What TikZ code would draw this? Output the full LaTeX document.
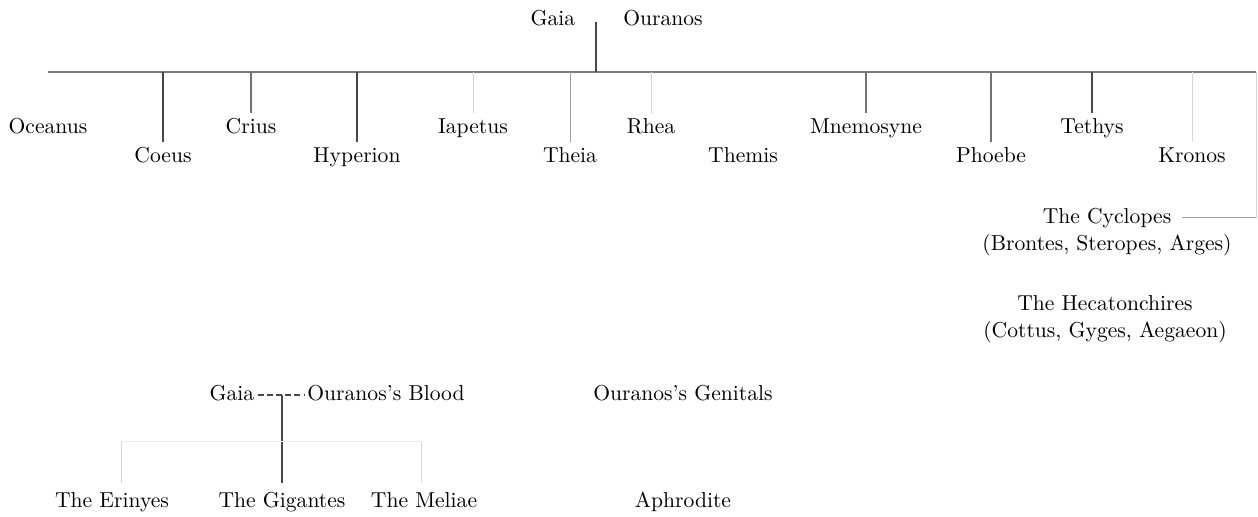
\documentclass[tikz,border=0pt]{standalone}

\begin{document}
\begin{tikzpicture}[
    x=0.5pt,
    y=-0.5pt,
    font=\fontsize{10.8}{13}\selectfont,
    kid/.style={inner sep=3.5pt, text height=1.5ex, text depth=.25ex},
    kidlow/.style={kid, inner sep=5.5pt},
    bar/.style={line width=1.1pt, black!52},
    darkline/.style={line width=0.8pt, black!72},
    midline/.style={line width=0.6pt, black!55},
    paleline/.style={line width=0.5pt, black!38},
    faintline/.style={line width=0.5pt, black!16},
  ]
  \useasboundingbox (0,0) rectangle (1258,517);

  \node[kid] (Gaia) at (553,20) {Gaia};
  \node[kid] (Ouranos) at (663,20) {Ouranos};
  \coordinate (union) at (596,22);
  \coordinate (barL) at (48,72);
  \coordinate (barR) at (1256,72);

  \node[kid] (Oceanus) at (48,128) {Oceanus};
  \node[kid] (Coeus) at (163,157) {Coeus};
  \node[kid] (Crius) at (251,128) {Crius};
  \node[kid] (Hyperion) at (357,157) {Hyperion};
  \node[kid] (Iapetus) at (473,128) {Iapetus};
  \node[kid] (Theia) at (570,157) {Theia};
  \node[kid] (Rhea) at (651,128) {Rhea};
  \node[kid] (Themis) at (743,157) {Themis};
  \node[kid] (Mnemosyne) at (866,128) {Mnemosyne};
  \node[kid] (Phoebe) at (991,157) {Phoebe};
  \node[kid] (Tethys) at (1092,128) {Tethys};
  \node[kid] (Kronos) at (1192,157) {Kronos};

  \node[kid] (Cyclopes) at (1107,218) {The Cyclopes};
  \node[kid] (CyclopesNames) at (1107,245) {(Brontes, Steropes, Arges)};
  \node[kid] (Hecaton) at (1105,305) {The Hecatonchires};
  \node[kid] (HecatonNames) at (1105,332) {(Cottus, Gyges, Aegaeon)};

  \draw[bar] (barL) -- (barR);
  \draw[darkline] (union) -- (union |- barL);
  \draw[darkline] (Coeus.north) -- (Coeus.north |- barL);
  \draw[midline] (Crius.north) -- (Crius.north |- barL);
  \draw[darkline] (Hyperion.north) -- (Hyperion.north |- barL);
  \draw[faintline] (Iapetus.north) -- (Iapetus.north |- barL);
  \draw[paleline] (Theia.north) -- (Theia.north |- barL);
  \draw[faintline] (Rhea.north) -- (Rhea.north |- barL);
  \draw[midline] (Mnemosyne.north) -- (Mnemosyne.north |- barL);
  \draw[midline] (Phoebe.north) -- (Phoebe.north |- barL);
  \draw[darkline] (Tethys.north) -- (Tethys.north |- barL);
  \draw[faintline] (Kronos.north) -- (Kronos.north |- barL);
  \draw[faintline] (barR) -- (barR |- Cyclopes.east);
  \draw[paleline] ([xshift=1.5pt]Cyclopes.east) -- (Cyclopes.east -| barR);

  \node[kid] (BloodGaia) at (232,395) {Gaia};
  \node[kid] (Blood) at (386,395) {Ouranos's Blood};
  \node[kid] (Genitals) at (683,395) {Ouranos's Genitals};
  \coordinate (sistersL) at (121,442);
  \coordinate (sistersR) at (421,442);

  \node[kidlow] (Erinyes) at (112,502) {The Erinyes};
  \node[kidlow] (Gigantes) at (282,502) {The Gigantes};
  \node[kidlow] (Meliae) at (424,502) {The Meliae};
  \node[kidlow] (Aphrodite) at (683,502) {Aphrodite};

  \draw[darkline, dash pattern=on 3pt off 1.6pt] ([xshift=-2pt]BloodGaia.east) -- ([xshift=2pt]Blood.west);
  \draw[darkline] (Gigantes.north) -- (Gigantes.north |- BloodGaia.east);
  \draw[black!8, line width=0.5pt] (sistersL) -- (sistersR);
  \draw[faintline] (sistersL) -- (sistersL |- Erinyes.north);
  \draw[faintline] (sistersR) -- (sistersR |- Meliae.north);
\end{tikzpicture}
\end{document}
